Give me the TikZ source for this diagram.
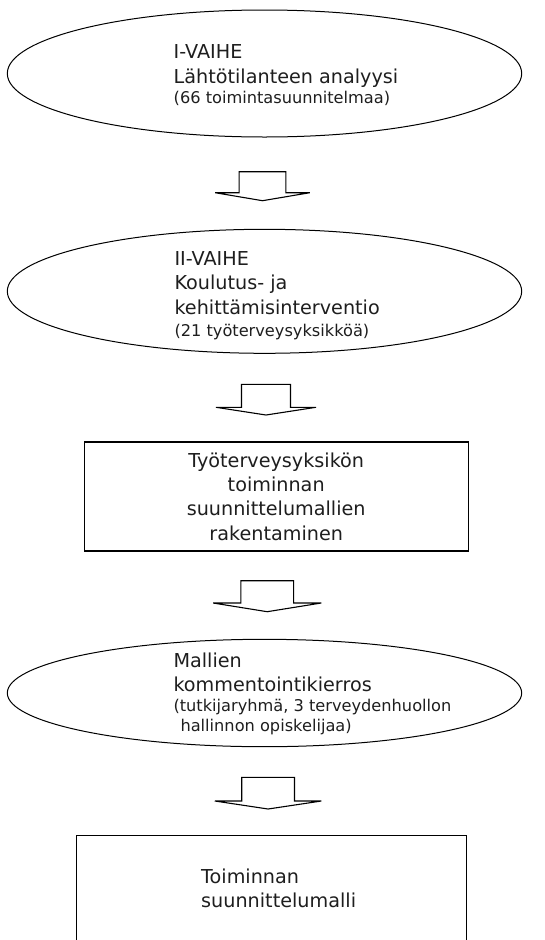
\documentclass[tikz,border=0pt]{standalone}
\usepackage{fontspec}
\setmainfont{DejaVu Sans}
\usepackage{xcolor}
\usepackage{tikz}
\usetikzlibrary{shapes.geometric}
\definecolor{txtgray}{RGB}{30, 30, 30}
\newcommand{\mainsize}{\fontsize{19.2}{24.4}\selectfont}
\newcommand{\notesize}{\fontsize{16.2}{20}\selectfont}
% block arrow: tip, stem half width, wing half width, head height, stem height
\newcommand{\flowarrow}[5]{%
	\draw[blockline] (#1) -- ++(-#3,-#4) -- ++(#3-#2,0) -- ++(0,-#5)
		-- ++(2*#2,0) -- ++(0,#5) -- ++(#3-#2,0) -- cycle;}

\begin{document}
\begin{tikzpicture}[x=1pt, y=-1pt,
		blockline/.style={draw=black, line width=1.1pt, line join=miter},
		phase/.style={ellipse, draw=black, line width=1pt, inner sep=0pt},
		stepbox/.style={rectangle, draw=black, line width=1.1pt, inner sep=0pt},
		label/.style={inner sep=0pt, text=txtgray, font=\mainsize}]
			\useasboundingbox (0,0) rectangle (544,940);
			\clip (0,0) rectangle (544,940);
			\def\ew{514.4}
			
			% I-VAIHE
			\node[phase, minimum width=\ew, minimum height=127] (vaihe1) at (264.5, 73.5) {};
			\node[label, anchor=north west, align=left] (vaihe1txt) at (173.5, 44.5)
				{I-VAIHE\\Lähtötilanteen analyysi\\[-4.4pt]{\notesize(66 toimintasuunnitelmaa)}};
			
			\coordinate (a1) at (262.5, 200.7);
			\flowarrow{a1}{23.4}{47.4}{8}{21}
			
			% II-VAIHE
			\node[phase, minimum width=\ew, minimum height=124] (vaihe2) at (264.5, 291.3) {};
			\node[label, anchor=north west, align=left] (vaihe2txt) at (174.3, 251)
				{II-VAIHE\\Koulutus- ja\\kehittämisinterventio\\[-2pt]{\notesize(21 työterveysyksikköä)}};
			
			\coordinate (a2) at (266, 415);
			\flowarrow{a2}{24.5}{50}{7.7}{23}
			
			% mallien rakentaminen
			\node[stepbox, minimum width=384.3, minimum height=109, label, align=center] (rakennus) at (276.2, 496.5)
				{Työterveysyksikön\\toiminnan\\suunnittelumallien\\rakentaminen};
			
			\coordinate (a3) at (267.2, 611.7);
			\flowarrow{a3}{26.4}{54.1}{8.7}{22.3}
			
			% kommentointikierros
			\node[phase, minimum width=\ew, minimum height=107.4] (kierros) at (264.5, 693) {};
			\node[label, anchor=north west, align=left] (kierrostxt) at (173.3, 652.5)
				{Mallien\\kommentointikierros\\[-4.4pt]{\notesize(tutkijaryhmä, 3 terveydenhuollon}\\[-4.4pt]{\notesize\hspace{7pt}hallinnon opiskelijaa)}};
			
			\coordinate (a4) at (268.1, 809);
			\flowarrow{a4}{26.4}{53.3}{8}{23.7}
			
			% Toiminnan suunnittelumalli
			\node[stepbox, minimum width=390, minimum height=150, anchor=north west] (tulos) at (76, 835) {};
			\node[label, anchor=north west, align=left] (tulostxt) at (201, 868.5)
				{Toiminnan\\suunnittelumalli};
			
		\end{tikzpicture}
\end{document}
